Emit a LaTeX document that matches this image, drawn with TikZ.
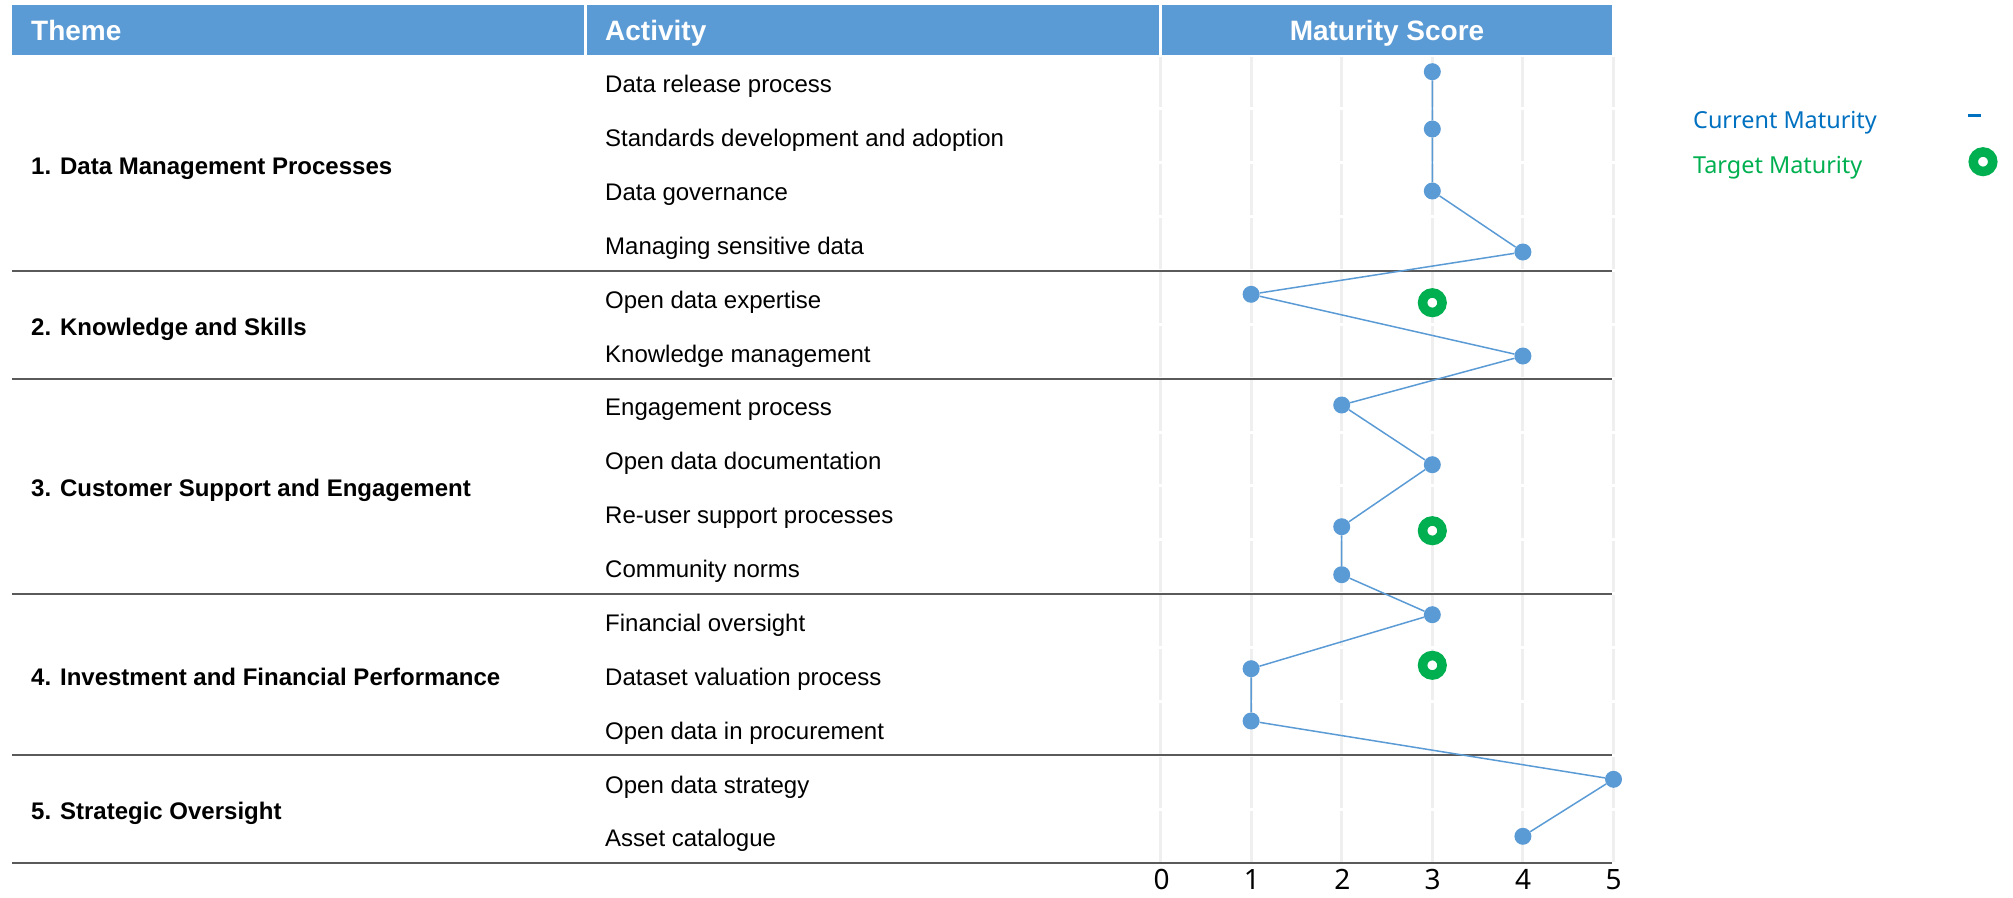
\documentclass[tikz,border=0pt]{standalone}
\usepackage{fontspec}
\setmainfont{Liberation Sans}
\newfontfamily\uifont{Noto Sans}
\definecolor{hdr}{HTML}{5B9BD5}
\definecolor{ser}{HTML}{5B9BD5}
\definecolor{tgtc}{HTML}{00B050}
\definecolor{curc}{HTML}{0070C0}
\definecolor{sepc}{HTML}{5A5A5A}
\definecolor{gridc}{HTML}{EFEFEF}
\begin{document}
\begin{tikzpicture}[x=1pt,y=-1pt,
  hdrtxt/.style={text=white,font=\fontsize{28}{32}\selectfont\bfseries,inner sep=0pt},
  act/.style={font=\fontsize{24}{28}\selectfont,anchor=base west,inner sep=0pt},
  themelbl/.style={font=\fontsize{24}{28}\selectfont\bfseries,anchor=base west,inner sep=0pt},
  curpt/.style={circle,fill=ser,draw=none,minimum size=17pt,inner sep=0pt},
  tgtpt/.style={circle,draw=tgtc,fill=white,line width=9.5pt,minimum size=19.5pt,inner sep=0pt},
  serline/.style={ser,line width=1.5pt},
  sepline/.style={sepc,line width=2pt},
  gridline/.style={gridc,line width=3pt},
  axlbl/.style={font=\uifont\fontsize{28}{30}\selectfont,anchor=base,inner sep=0pt},
  leglbl/.style={font=\uifont\fontsize{23.4}{28}\selectfont,anchor=base west,inner sep=0pt}
]
\useasboundingbox (0,0) rectangle (2013,897);

% header
\fill[hdr] (12,5) rectangle (583.5,55);
\fill[hdr] (586.5,5) rectangle (1158.5,55);
\fill[hdr] (1161.5,5) rectangle (1612,55);
\node[hdrtxt,anchor=base west] (hTheme) at (31,40) {Theme};
\node[hdrtxt,anchor=base west] (hAct) at (605,40) {Activity};
\node[hdrtxt,anchor=base] (hScore) at (1387,40) {Maturity Score};

% grid
\foreach \g in {0,...,5}{
  \foreach \r in {0,...,14}{
    \draw[gridline] ({1160.5+90.6*\g},{55+53.87*\r+1.5}) -- ({1160.5+90.6*\g},{55+53.87*(\r+1)-1.5});
  }
}

% separators
\foreach \yy in {270.5,378.5,593.7,755.3,862.8}{
  \draw[sepline] (12,\yy) -- (1612,\yy);
}

% activities
\foreach \t [count=\k] in {Data release process,Standards development and adoption,Data governance,Managing sensitive data,Open data expertise,Knowledge management,Engagement process,Open data documentation,Re-user support processes,Community norms,Financial oversight,Dataset valuation process,Open data in procurement,Open data strategy,Asset catalogue}{
  \node[act] (a\k) at (605,{55+53.87*(\k-0.5)+10.8}) {\t};
}

% themes
\node[themelbl] (t1) at (31,{163+3+8.6}) {1. Data Management Processes};
\node[themelbl] (t2) at (31,{324.5+2+8.6}) {2. Knowledge and Skills};
\node[themelbl] (t3) at (31,{486+2+8.6}) {3. Customer Support and Engagement};
\node[themelbl] (t4) at (31,{674.5+2+8.6}) {4. Investment and Financial Performance};
\node[themelbl] (t5) at (31,{809+2+8.6}) {5. Strategic Oversight};

% axis labels
\foreach \n in {0,...,5}{
  \node[axlbl] (x\n) at ({1161.5+90.4*\n},889) {\n};
}

% targets
\node[tgtpt] (g1) at ({1160.5+90.6*3},302.7) {};
\node[tgtpt] (g2) at ({1160.5+90.6*3},530.7) {};
\node[tgtpt] (g3) at ({1160.5+90.6*3},665.3) {};

% current maturity points
\foreach \s/\yy [count=\k] in {3/71.7,3/129,3/191,4/252,1/294.3,4/356,2/405,3/464.7,2/526.7,2/574.7,3/614.7,1/668.7,1/721,5/779.3,4/836.3}{
  \node[curpt] (p\k) at ({1160.5+90.6*\s},\yy) {};
}
\draw[serline] (p1) -- (p2) -- (p3) -- (p4) -- (p5) -- (p6) -- (p7) -- (p8) -- (p9) -- (p10) -- (p11) -- (p12) -- (p13) -- (p14) -- (p15);

% legend
\node[leglbl,text=curc] (lc) at (1693,128.3) {Current Maturity};
\node[leglbl,text=tgtc] (lt) at (1693,173) {Target Maturity};
\coordinate (d1) at (1968,115.5);
\coordinate (d2) at (1981,115.5);
\draw[curc,line width=2.5pt] (d1) -- (d2);
\node[tgtpt] (lg) at (1983,161.7) {};
\end{tikzpicture}
\end{document}
